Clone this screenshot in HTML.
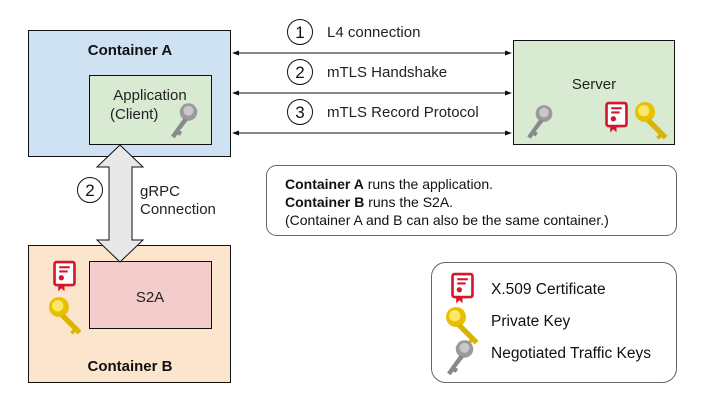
<!DOCTYPE html>
<html><head><meta charset="utf-8"><style>
html,body{margin:0;padding:0;background:#fff;width:713px;height:411px;overflow:hidden}
svg{display:block;font-family:"Liberation Sans",Arial,sans-serif}
</style></head><body>
<svg width="713" height="411" viewBox="0 0 713 411" xmlns="http://www.w3.org/2000/svg">
<defs>
<g id="gkey">
<circle cx="10" cy="8" r="7" fill="#9a9a9a"/><circle cx="10" cy="7" r="4" fill="#c8c8c8"/>
<path d="M6 13 L-4 27 L-1 29 L1 26 L3 27 L5 24 L3 23 L10 14 Z" fill="#8a8a8a"/>
</g>
<g id="ykey">
<circle cx="8" cy="8" r="8" fill="#e8c000"/><circle cx="7" cy="7" r="4.5" fill="#fbe66a"/>
<path d="M12 13 L26 27 L23 30 L21 28 L19 30 L17 28 L19 26 L9 16 Z" fill="#dcb400"/>
</g>
<g id="cert">
<rect x="0.5" y="0" width="19" height="22" rx="2" fill="#fff" stroke="#d4162c" stroke-width="2.5"/>
<line x1="5" y1="5" x2="15" y2="5" stroke="#d4162c" stroke-width="2"/>
<line x1="5" y1="9" x2="13" y2="9" stroke="#d4162c" stroke-width="2"/>
<circle cx="7" cy="15" r="2.5" fill="#d4162c"/>
<path d="M4 21 L4 28 L7 25 L10 28 L10 21 Z" fill="#d4162c"/>
</g>
</defs>
<rect x="28.5" y="30.5" width="202" height="126" fill="#cfe2f3" stroke="#111"/>
<text x="130" y="55" text-anchor="middle" font-size="15" font-weight="bold" fill="#111">Container A</text>
<rect x="89.5" y="75.5" width="122" height="69" fill="#d9ead3" stroke="#111"/>
<text x="150" y="100" text-anchor="middle" font-size="15" fill="#222">Application</text>
<text x="110" y="119" font-size="15" fill="#222">(Client)</text>
<use href="#gkey" transform="translate(176,102) scale(1.25)"/>
<g stroke="#111" stroke-width="1">
<line x1="234" y1="53" x2="510" y2="53"/><line x1="234" y1="93" x2="510" y2="93"/><line x1="234" y1="133" x2="510" y2="133"/>
</g>
<g fill="#111">
<path d="M232 53 l7 -2.5 v5z M512 53 l-7 -2.5 v5z"/>
<path d="M232 93 l7 -2.5 v5z M512 93 l-7 -2.5 v5z"/>
<path d="M232 133 l7 -2.5 v5z M512 133 l-7 -2.5 v5z"/>
</g>
<g fill="#fff" stroke="#111" stroke-width="1">
<circle cx="300" cy="32" r="12.5"/><circle cx="300" cy="72" r="12.5"/><circle cx="300" cy="112" r="12.5"/>
<circle cx="90" cy="190" r="12.5"/>
</g>
<g font-size="17" fill="#111" text-anchor="middle">
<text x="300" y="38">1</text><text x="300" y="78">2</text><text x="300" y="118">3</text><text x="90" y="196">2</text>
</g>
<g font-size="15" fill="#222">
<text x="327" y="37">L4 connection</text>
<text x="327" y="77">mTLS Handshake</text>
<text x="327" y="117">mTLS Record Protocol</text>
<text x="140" y="196">gRPC</text>
<text x="140" y="214">Connection</text>
</g>
<rect x="513.5" y="40.5" width="161" height="104" fill="#d9ead3" stroke="#111"/>
<text x="594" y="89" text-anchor="middle" font-size="15" fill="#222">Server</text>
<use href="#gkey" transform="translate(532,104) scale(1.2)"/>
<use href="#cert" transform="translate(606,103) scale(1.05)"/>
<use href="#ykey" transform="translate(635,102) scale(1.25)"/>
<rect x="28.5" y="245.5" width="202" height="137" fill="#fce5cd" stroke="#111"/>
<rect x="89.5" y="261.5" width="122" height="67" fill="#f4cccc" stroke="#111"/>
<text x="150" y="302" text-anchor="middle" font-size="15" fill="#222">S2A</text>
<text x="130" y="371" text-anchor="middle" font-size="15" font-weight="bold" fill="#111">Container B</text>
<use href="#cert" transform="translate(54,262) scale(1.05)"/>
<use href="#ykey" transform="translate(49,297) scale(1.25)"/>
<path d="M120 145 L143 167 L132 167 L132 240 L143 240 L120 262 L97 240 L109 240 L109 167 L97 167 Z" fill="#e8e8e8" stroke="#111" stroke-width="1"/>
<rect x="266.5" y="165.5" width="410" height="70" rx="10" fill="#fff" stroke="#666"/>
<g font-size="14" fill="#111">
<text x="285" y="189"><tspan font-weight="bold">Container A</tspan> runs the application.</text>
<text x="285" y="207"><tspan font-weight="bold">Container B</tspan> runs the S2A.</text>
<text x="285" y="225">(Container A and B can also be the same container.)</text>
</g>
<rect x="431.5" y="262.5" width="245" height="120" rx="14" fill="#fff" stroke="#666"/>
<use href="#cert" transform="translate(452,274) scale(1.05)"/>
<use href="#ykey" transform="translate(446,307) scale(1.25)"/>
<use href="#gkey" transform="translate(452,339) scale(1.25)"/>
<g font-size="15.5" fill="#111">
<text x="491" y="294">X.509 Certificate</text>
<text x="491" y="326">Private Key</text>
<text x="491" y="358">Negotiated Traffic Keys</text>
</g>
</svg>
</body></html>
